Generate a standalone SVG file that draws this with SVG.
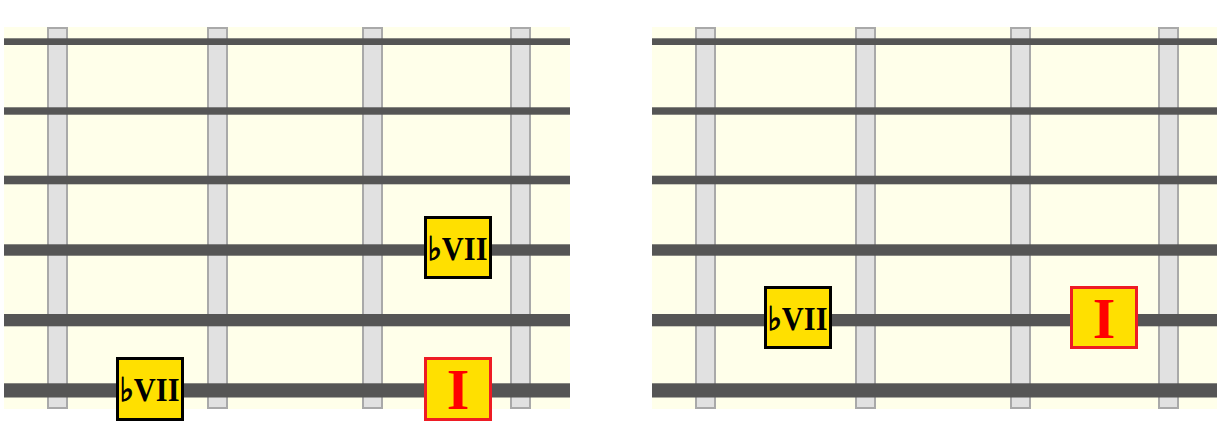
<svg xmlns="http://www.w3.org/2000/svg" width="1217" height="427" viewBox="0 0 1217 427">
<defs>
<style>
.bg{fill:#FFFFEA}
.str{fill:#555555}
.fret{fill:#E1E1E1;stroke:#A9A9A9;stroke-width:2}
.box{fill:#FFE000;stroke:#000000;stroke-width:3}
.rbox{fill:#FFE000;stroke:#EE1C24;stroke-width:3}
.flat{font-family:"Liberation Serif","DejaVu Serif",serif;font-weight:bold;font-size:33px;fill:#000000;text-anchor:middle}
.fs{font-family:"DejaVu Serif","DejaVu Sans",serif;font-weight:bold;font-size:33px;stroke:#000000;stroke-width:1}
.root{font-family:"Liberation Serif","DejaVu Serif",serif;font-weight:bold;font-size:58px;fill:#FF0000;text-anchor:middle}
</style>
<g id="board">
<rect class="bg" x="0" y="27" width="566" height="382"/>
<rect class="fret" x="44" y="28" width="19" height="380"/>
<rect class="fret" x="204" y="28" width="19" height="380"/>
<rect class="fret" x="359" y="28" width="19" height="380"/>
<rect class="fret" x="507" y="28" width="19" height="380"/>
<rect class="str" x="0" y="38.3" width="566" height="6.7"/>
<rect class="str" x="0" y="107.3" width="566" height="7.4"/>
<rect class="str" x="0" y="175.7" width="566" height="8.6"/>
<rect class="str" x="0" y="244.3" width="566" height="11.4"/>
<rect class="str" x="0" y="314" width="566" height="12.3"/>
<rect class="str" x="0" y="383.3" width="566" height="14.2"/>
</g>
</defs>
<g id="fretboard-left">
<use href="#board" x="4" y="0"/>
</g>
<g id="fretboard-right">
<use href="#board" x="652" y="0"/>
</g>
<g id="left-bVII-string4">
<rect class="box" x="425.5" y="217.5" width="65" height="60"/>
<text class="flat" x="457.5" y="260" textLength="60" lengthAdjust="spacingAndGlyphs"><tspan class="fs">♭</tspan>VII</text>
</g>
<g id="left-I-string6">
<rect class="rbox" x="425.5" y="358.5" width="65" height="61"/>
<text class="root" x="458" y="409">I</text>
</g>
<g id="left-bVII-string6">
<rect class="box" x="117.5" y="358.5" width="65" height="61"/>
<text class="flat" x="149.5" y="401" textLength="60" lengthAdjust="spacingAndGlyphs"><tspan class="fs">♭</tspan>VII</text>
</g>
<g id="right-bVII-string5">
<rect class="box" x="765.5" y="287.5" width="65" height="60"/>
<text class="flat" x="797.5" y="330" textLength="60" lengthAdjust="spacingAndGlyphs"><tspan class="fs">♭</tspan>VII</text>
</g>
<g id="right-I-string5">
<rect class="rbox" x="1071.5" y="287.5" width="65" height="60"/>
<text class="root" x="1104" y="338">I</text>
</g>
</svg>
